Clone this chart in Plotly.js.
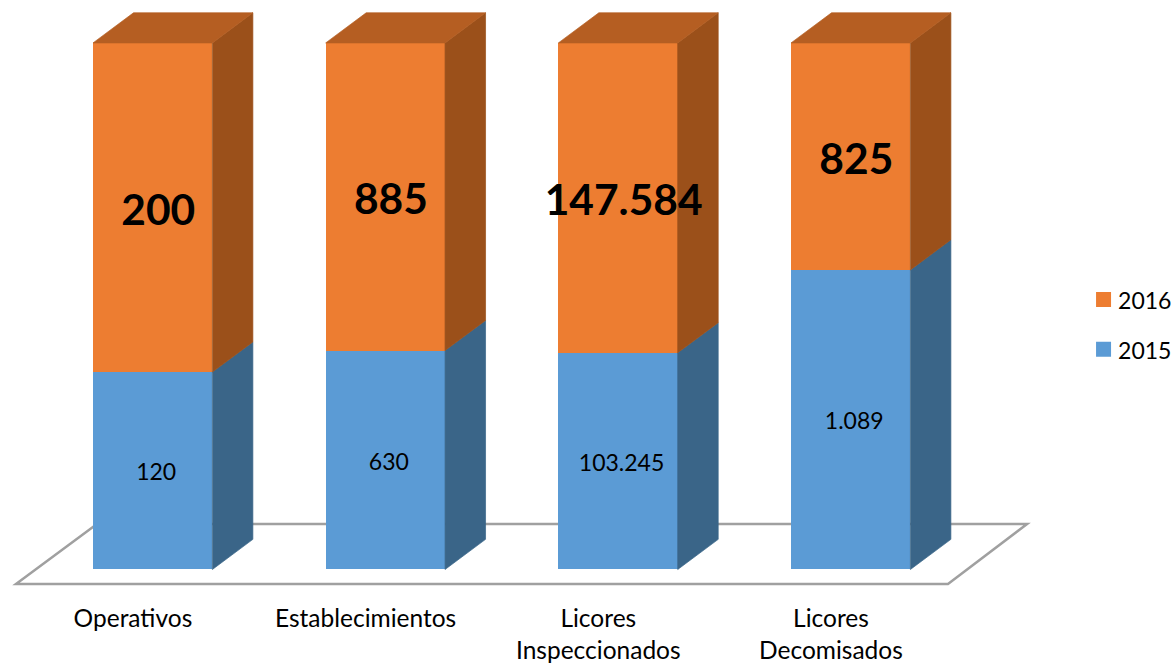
<!DOCTYPE html>
<html><head><meta charset="utf-8">
<script src="https://cdn.plot.ly/plotly-3.0.1.min.js"></script>
<style>html,body{margin:0;padding:0;background:#fff;overflow:hidden}#c{width:1173px;height:663px}</style>
</head><body><div id="c"></div>
<script>
const categories = ['Operativos','Establecimientos','Licores<br>Inspeccionados','Licores<br>Decomisados'];
const values2015 = [120, 630, 103245, 1089];
const values2016 = [200, 885, 147584, 825];
const seriesNames = ['2015','2016'];

const BLUE='#5B9BD5', BLUE_SIDE='#3A6588', ORANGE='#ED7D31', ORANGE_SIDE='#9B501A', ORANGE_TOP='#B55E22', FLOOR='#A0A0A0';
const FONT='Lato, Carlito, sans-serif';
const barW=0.513, depthX=0.174, depthY=5.72;
const xs=categories.map((_,i)=>i);
const share=values2015.map((v,i)=>100*v/(v+values2016[i]));
const fmt=v=>String(v).replace(/\B(?=(\d{3})+$)/g,'.');

function poly(build){const X=[],Y=[];xs.forEach(i=>{const p=build(i);p.forEach(q=>{X.push(q[0]);Y.push(q[1]);});X.push(null);Y.push(null);});return {X,Y};}
const sideBlue=poly(i=>{const r=i+barW/2;return [[r,0],[r+depthX,depthY],[r+depthX,share[i]+depthY],[r,share[i]],[r,0]];});
const sideOrange=poly(i=>{const r=i+barW/2;return [[r,share[i]],[r+depthX,share[i]+depthY],[r+depthX,100+depthY],[r,100],[r,share[i]]];});
const top3d=poly(i=>{const r=i+barW/2,l=i-barW/2;return [[l,100],[l+depthX,100+depthY],[r+depthX,100+depthY],[r,100],[l,100]];});
const face=(p,c)=>({type:'scatter',mode:'lines',x:p.X,y:p.Y,fill:'toself',fillcolor:c,line:{width:0.7,color:c},hoverinfo:'skip',showlegend:false});

const data=[
 {type:'bar',name:seriesNames[0],legendrank:2,x:xs,y:values2015,width:barW,marker:{color:BLUE,line:{width:0}},hoverinfo:'y'},
 {type:'bar',name:seriesNames[1],legendrank:1,x:xs,y:values2016,width:barW,marker:{color:ORANGE,line:{width:0}},hoverinfo:'y'},
 face(sideBlue,BLUE_SIDE),face(sideOrange,ORANGE_SIDE),face(top3d,ORANGE_TOP),
 {type:'scatter',mode:'text',x:xs.map(i=>i+0.015),y:share.map(s=>s/2-0.75),text:values2015.map(fmt),textposition:'middle center',textfont:{family:FONT,size:23,color:'#000'},showlegend:false,hoverinfo:'skip',cliponaxis:false},
 {type:'scatter',mode:'text',x:xs.map(i=>i+0.024),y:share.map(s=>(s+100)/2-1.25),text:values2016.map(v=>'<b>'+fmt(v)+'</b>'),textposition:'middle center',textfont:{family:FONT,size:42.5,color:'#000'},showlegend:false,hoverinfo:'skip',cliponaxis:false}
];
const layout={
 width:1173,height:663,paper_bgcolor:'#fff',plot_bgcolor:'rgba(0,0,0,0)',
 margin:{l:10,r:138,t:5,b:73,pad:0,autoexpand:false},
 barmode:'stack',barnorm:'percent',
 xaxis:{range:[-0.6133,3.792],tickmode:'array',tickvals:xs.map(i=>i-0.085),ticktext:categories,showgrid:false,zeroline:false,showline:false,ticks:'outside',ticklen:7,tickcolor:'rgba(0,0,0,0)',tickfont:{family:FONT,size:24.5,color:'#000'},tickangle:0,automargin:false},
 yaxis:{range:[-3.894,107.2],visible:false,showgrid:false,zeroline:false},
 shapes:[{type:'path',layer:'below',xref:'x',yref:'y',
   path:'M -0.5875 -2.754 L 3.418 -2.754 L 3.758 8.64 L -0.2394 8.64 Z',
   line:{color:FLOOR,width:2.5},fillcolor:'rgba(0,0,0,0)'}],
 legend:{x:1.042,xanchor:'left',y:0.4538,yanchor:'middle',traceorder:'normal',itemwidth:30,font:{family:FONT,size:36,color:'#000'},bgcolor:'rgba(0,0,0,0)'},
 hovermode:false,showlegend:true
};
function tweak(){
  document.querySelectorAll('.legend .legendpoints path').forEach(p=>{p.setAttribute('d','M7.5,7.5H-7.5V-7.5H7.5Z');p.setAttribute('transform','translate(25.5,0)');});
  document.querySelectorAll('.legend .legendtext').forEach(t=>{t.style.fontSize='23px';t.setAttribute('transform','translate(0,-4)');});
}
Plotly.newPlot('c',data,layout,{displayModeBar:false}).then(()=>{tweak();setTimeout(tweak,0);});
</script></body></html>
